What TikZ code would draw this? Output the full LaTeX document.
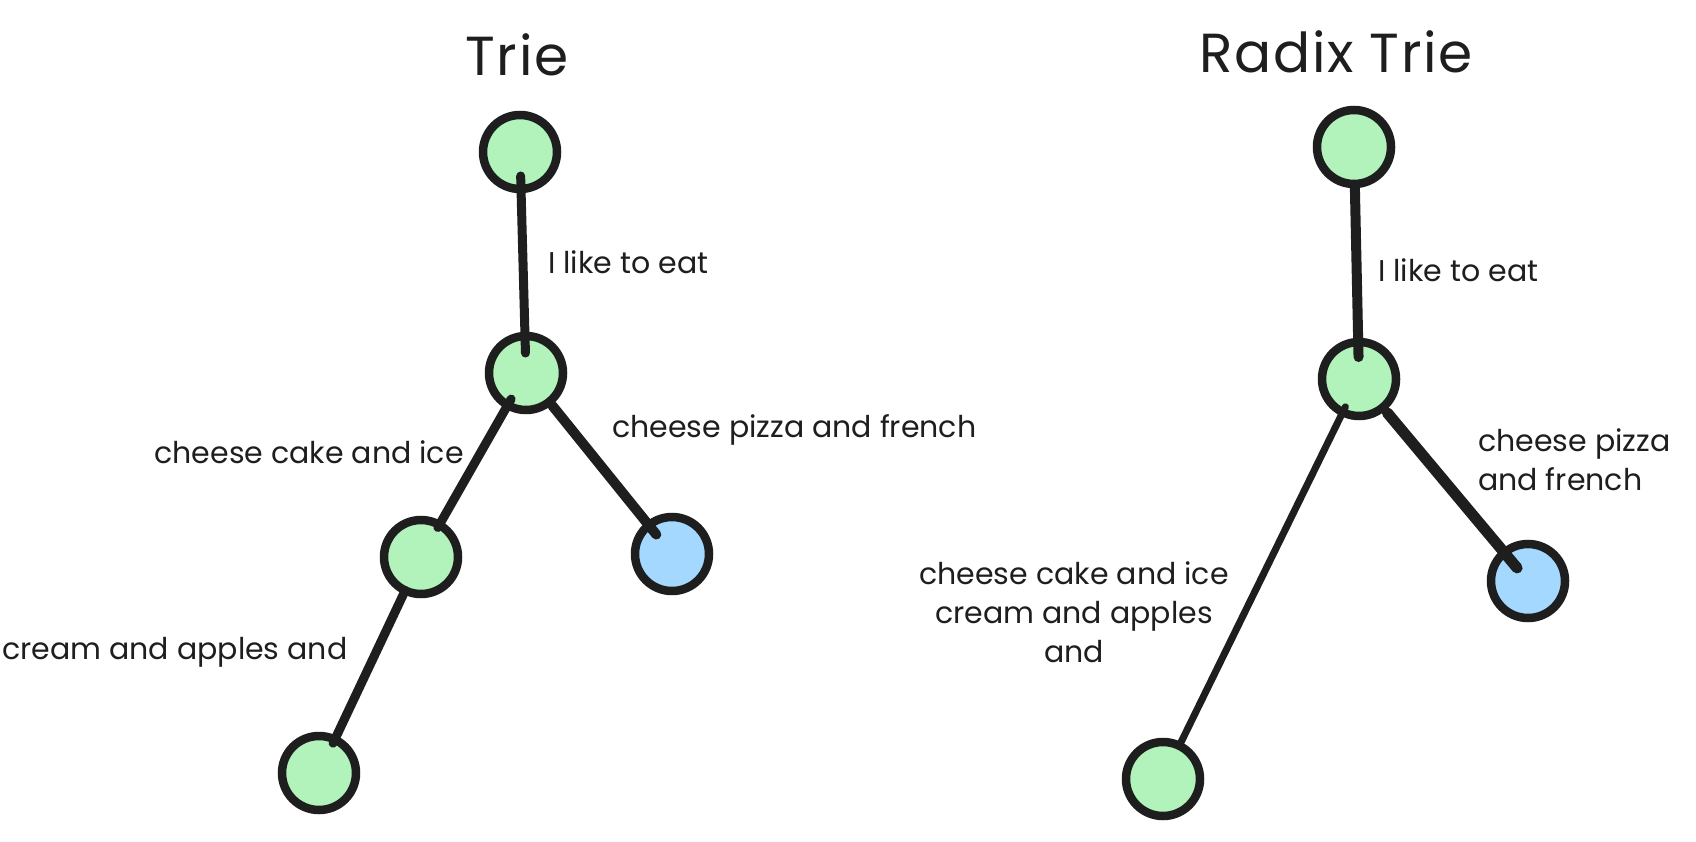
\documentclass[tikz,border=0pt]{standalone}
\usepackage{fontspec}
\setmainfont{Poppins}
\newfontfamily\ttlfont[LetterSpace=3]{Poppins}
\definecolor{ink}{HTML}{1E1E1E}
\definecolor{gfill}{HTML}{B2F2BB}
\definecolor{bfill}{HTML}{A5D8FF}
\begin{document}
\begin{tikzpicture}[x=1pt,y=-1pt,
  tnode/.style={circle,draw=ink,line width=8.5pt,minimum size=74pt,inner sep=0pt},
  gnode/.style={tnode,fill=gfill},
  bnode/.style={tnode,fill=bfill},
  edge/.style={draw=ink,line width=9pt,line cap=round},
  lbl/.style={text=ink,font=\fontsize{30}{39}\selectfont,inner sep=0pt},
  ttl/.style={text=ink,font=\ttlfont\fontsize{55}{66}\selectfont,inner sep=0pt}]
\fill[white] (0,0) rectangle (1696,842);
\useasboundingbox (0,0) rectangle (1696,842);
% titles
\node[ttl] (t1) at (517,55) {Trie};
\node[ttl] (t2) at (1336,52) {Radix Trie};
% left tree
\node[gnode] (r1) at (520,152) {};
\node[gnode] (m1) at (526,373) {};
\node[gnode] (c1) at (421,557) {};
\node[bnode] (b1) at (672,554) {};
\node[gnode] (d1) at (319,773) {};
\path[edge,shorten <=24pt,shorten >=20pt] (r1.center) -- (m1.center);
\path[edge,shorten <=30pt,shorten >=34pt] (m1.center) -- (c1.center);
\path[edge,line width=10pt,shorten <=42pt,shorten >=25pt] (m1.center) -- (b1.center);
\path[edge,shorten <=37pt,shorten >=33pt] (c1.center) -- (d1.center);
\node[lbl,anchor=west] (l1) at (548,262) {I like to eat};
\node[lbl,anchor=east] (l2) at (464,452) {cheese cake and ice};
\node[lbl,anchor=west] (l3) at (612,430) {cheese pizza and french};
\node[lbl,anchor=west] (l4) at (2,652) {cream and apples and};
% right tree
\node[gnode] (r2) at (1354,147) {};
\node[gnode] (m2) at (1359,379) {};
\node[bnode] (b2) at (1528,581) {};
\node[gnode] (d2) at (1163,779) {};
\path[edge,line width=10pt,shorten <=38pt,shorten >=22pt] (r2.center) -- (m2.center);
\path[edge,line width=7pt,shorten <=31pt,shorten >=37pt] (m2.center) -- (d2.center);
\path[edge,line width=11pt,shorten <=44pt,shorten >=17pt] (m2.center) -- (b2.center);
\node[lbl,anchor=west] (l5) at (1378,270) {I like to eat};
\node[lbl,anchor=west,align=left] (l6) at (1478,460) {cheese pizza\\and french};
\node[lbl,align=center] (l7) at (1074,612) {cheese cake and ice\\cream and apples\\and};
\end{tikzpicture}
\end{document}
